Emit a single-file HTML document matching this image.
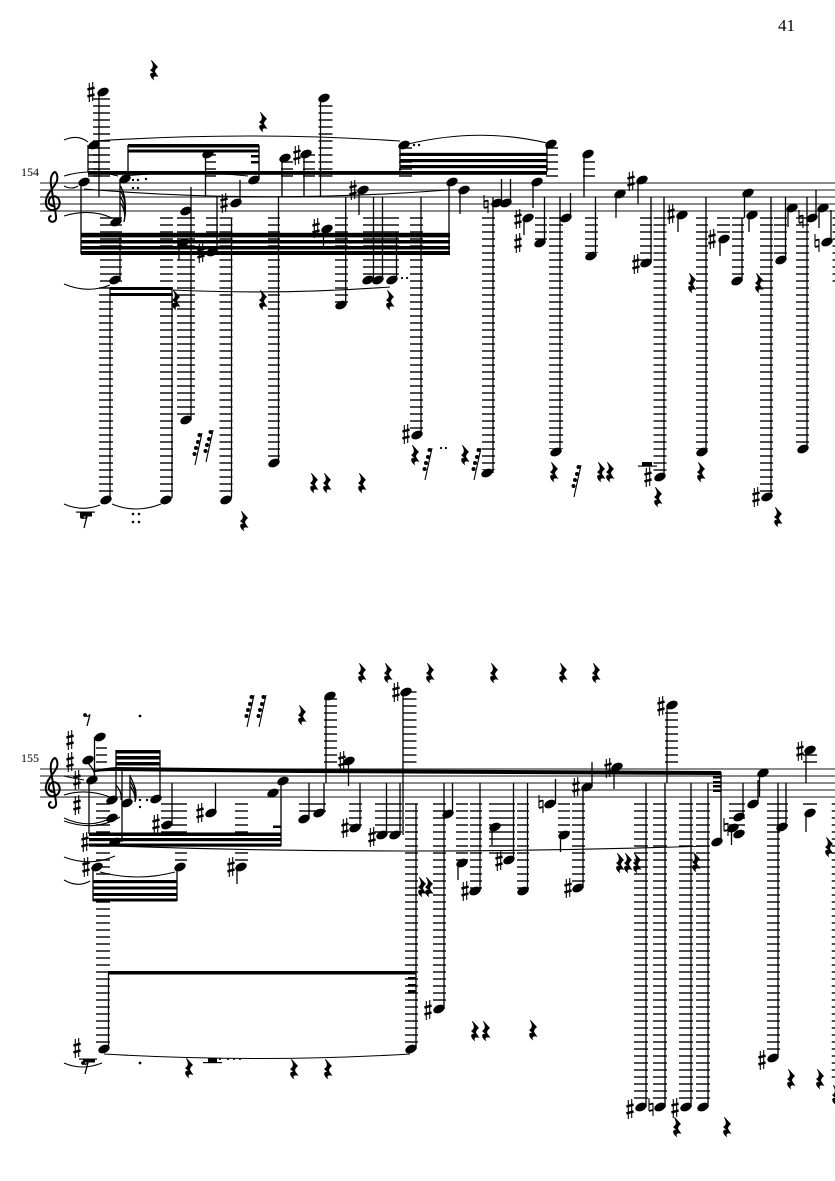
<!DOCTYPE html>
<html><head><meta charset="utf-8"><style>
html,body{margin:0;padding:0;background:#fff}
svg{display:block}
text{font-family:"Liberation Serif",serif;fill:#000}
</style></head><body>
<svg width="835" height="1181" viewBox="0 0 835 1181" xmlns="http://www.w3.org/2000/svg">
<defs>
<ellipse id="h" rx="6" ry="3.9" transform="rotate(-24)" fill="#000"/>
<g id="s" stroke="#000" fill="none"><path d="M-1.7-9V10M1.7-10V9" stroke-width="1.1"/><path d="M-3.6-2.4L3.6-4.4M-3.6 4.4L3.6 2.4" stroke-width="2.5"/></g>
<g id="n" stroke="#000" fill="none"><path d="M-2-9V4M2-4V9" stroke-width="1.1"/><path d="M-2-2.5L2-3.5M-2 4L2 3" stroke-width="1.9"/></g>
<path id="r" fill="#000" d="M-2.400-10L4-3C1.500-1 .5 1 1.500 2.500L4.500 7C1 5.500-2 6.500 .5 10.500C-5 7-5 2-.8 3L-4 0C-1-2 0-4-3-9.500Z"/>
<g id="f"><path d="M0 32L7 0" stroke="#000" stroke-width="1.100"/><circle cx="4.500" cy="2" r="2"/><circle cx="3" cy="9" r="2"/><circle cx="1" cy="15" r="2"/><circle cx="-.5" cy="21" r="2"/></g>
<g id="e"><circle cx="-2" cy="-5" r="1.900"/><path d="M-2-4.500C0-3 2-4 3-5.500L0 6" stroke="#000" stroke-width="1.300" fill="none"/></g>
<path id="c" fill="none" stroke="#000" stroke-width="2" d="M54 206C50 206 48 203 49 200C50 196 55 195 58 198C61 202 60 209 54 210C48 211 45 206 46 200C47 193 54 188 57 181C58 177 57 173 55 172C52 173 50 178 51 185L56 216C57 221 53 223 50 221C48 219 49 216 51.500 216"/>
</defs>
<rect width="835" height="1181" fill="#fff"/>
<text x="778" y="31" font-size="17">41</text>
<text x="21" y="176" font-size="12">154</text>
<text x="21" y="762" font-size="12">155</text>

<!-- staves -->
<path stroke="#444" stroke-width="1.300" fill="none" d="M40 183H835M40 190H835M40 197H835M40 204H835M40 211H835M40 769H835M40 776H835M40 783H835M40 790H835M40 797H835"/>
<use href="#c"/>
<use href="#c" y="586"/>

<!-- ledger stacks system 1 -->
<g fill="none" stroke="#111" stroke-dasharray="1.500 5.500">
<path d="M101.500 98.300V177" stroke-width="17"/>
<path d="M94 147.300V177" stroke-width="12"/>
<path d="M111 217.300V282" stroke-width="22"/>
<path d="M106 287.300V496" stroke-width="14"/>
<path d="M166.500 217.300V496" stroke-width="13"/>
<path d="M186 217.300V416" stroke-width="18"/>
<path d="M212 217.300V233" stroke-width="12"/>
<path d="M226 217.300V496" stroke-width="13"/>
<path d="M210.500 154.300V177" stroke-width="11"/>
<path d="M287 161.300V177" stroke-width="12"/>
<path d="M309 154.300V177" stroke-width="12"/>
<path d="M325.500 105.300V177" stroke-width="14"/>
<path d="M274 217.300V458" stroke-width="12"/>
<path d="M341.500 217.300V303" stroke-width="13"/>
<path d="M381 217.300V277" stroke-width="36"/>
<path d="M416.500 217.300V431" stroke-width="13"/>
<path d="M405.500 147.300V177" stroke-width="13"/>
<path d="M552 147.300V177" stroke-width="12"/>
<path d="M488.500 217.300V470" stroke-width="13"/>
<path d="M541 217.300V240" stroke-width="12"/>
<path d="M556 217.300V449" stroke-width="14"/>
<path d="M591.500 217.300V253" stroke-width="13"/>
<path d="M589 161.300V177" stroke-width="12"/>
<path d="M646 217.300V261" stroke-width="12"/>
<path d="M660 217.300V473" stroke-width="13"/>
<path d="M702 217.300V449" stroke-width="12"/>
<path d="M723.500 217.300V233" stroke-width="13"/>
<path d="M738 217.300V278" stroke-width="12"/>
<path d="M766.500 217.300V494" stroke-width="13"/>
<path d="M780.500 217.300V256" stroke-width="13"/>
<path d="M802.500 217.300V446" stroke-width="13"/>
<path d="M834 217.300V282" stroke-width="3"/>

<!-- ledger stacks system 2 -->
<path d="M101.500 747.300V763" stroke-width="11"/>
<path d="M103 803.300V1044" stroke-width="14"/>
<path d="M174 803.300V833" stroke-width="26"/>
<path d="M181 852.300V861" stroke-width="12"/>
<path d="M241.500 803.300V833" stroke-width="13"/>
<path d="M241.500 852.300V861" stroke-width="13"/>
<path d="M312.500 803.300V812" stroke-width="27"/>
<path d="M330.500 698.300V763" stroke-width="13"/>
<path d="M409.500 691.300V763" stroke-width="14"/>
<path d="M355.500 803.300V826" stroke-width="13"/>
<path d="M388.500 803.300V833" stroke-width="27"/>
<path d="M411.500 803.300V1044" stroke-width="13"/>
<path d="M439.500 803.300V1005" stroke-width="13"/>
<path d="M462 803.300V861" stroke-width="12"/>
<path d="M476 803.300V889" stroke-width="12"/>
<path d="M502 803.300V858" stroke-width="26"/>
<path d="M523 803.300V889" stroke-width="12"/>
<path d="M564 803.300V833" stroke-width="12"/>
<path d="M578.500 803.300V885" stroke-width="13"/>
<path d="M641 803.300V1103" stroke-width="14"/>
<path d="M660 803.300V1103" stroke-width="14"/>
<path d="M686 803.300V1103" stroke-width="14"/>
<path d="M703 803.300V1103" stroke-width="14"/>
<path d="M671.500 712.300V763" stroke-width="13"/>
<path d="M737 803.300V826" stroke-width="16"/>
<path d="M773.500 803.300V1054" stroke-width="13"/>
<path d="M783 803.300V826" stroke-width="10"/>
<path d="M810 803.300V806" stroke-width="14"/>
<path d="M810 754.300V763" stroke-width="14"/>
<path d="M833.500 803.300V1078" stroke-width="3.500"/>
</g>

<!-- stems -->
<path fill="none" stroke="#000" stroke-width="1.300" d="
M99 92V197M88 145V172M81 182V254M128 145V180M259 145V178M120 180V221M120 235V280M110 288V498M172 288V498M191 187V420M179 243V260M217 197V252M240 180V203M231.500 218V498M205.500 155V197M282 158V197M304 154V197M320.500 98V197M278.500 197V463M359 190V215M323.500 229V246M345.700 197V305M373.500 197V280M382.500 197V280M396.500 232V280M421 197V435M400 145V172M547 144V172M449 182V254M460 190V214M501.500 179V203M510.500 179V203M493 197V473M533 182V208M524 218V235M544.500 197V243M570.500 193V218M560 197V452M595.500 197V256M584 154V197M616 194V218M638 180V204M651 197V263M664 197V477M678 215V232M706 197V452M720 239V256M744.500 193V218M749 215V232M742 218V281M771 197V497M788 208V227M785.500 197V260M816 190V218M819 208V228M831 210V242M807 197V449
M94.500 737V780M89 780V834M116 750V800M122 770V842M130 775V803M160 750V799M281 781V846M93 866V901M177 866V901M172 783V824M215.500 783V813M237 867V884M108.500 972V1047M416 972V1049M403 783V835M386.500 783V835M400 783V835M309 783V819M324 783V813M360 783V828M348.500 761V786M326 696V783M403 692V783M444 783V1009M452.500 783V814M492 827V845M458 863V880M480 783V891M513.500 783V860M527.500 783V891M555.500 779V804M560.500 835V852M592 762V787M583 787V888M614 767V789M646 783V1107M665 783V1107M691 783V1107M708 783V1107M667 705V783M721 772V842M731.500 832V845M743 783V817M758 780V804M759.500 773V797M778 783V1058M786 783V827M806 750V783M806 815V832M416 804V972"/>

<!-- beams -->
<g fill="#000">
<rect x="88" y="171" width="459" height="3.800"/>
<rect x="128" y="144" width="131" height="3.500"/><rect x="128" y="149.500" width="131" height="3"/>
<rect x="251" y="155" width="8" height="2.500"/><rect x="251" y="161" width="8" height="2.500"/>
<rect x="400" y="152.800" width="147" height="3.200"/><rect x="400" y="159" width="147" height="3.200"/><rect x="400" y="165" width="147" height="3.200"/>
<rect x="81" y="232.800" width="369" height="4.600"/><rect x="81" y="240" width="369" height="3.500"/><rect x="81" y="246" width="369" height="3.500"/><rect x="81" y="251" width="369" height="4"/>
<rect x="110" y="287" width="62" height="3"/><rect x="110" y="293" width="62" height="3"/>
<rect x="76" y="511.500" width="19" height="1.200"/><rect x="80" y="512.500" width="12" height="4"/>
<rect x="642" y="462" width="10" height="3.500"/><rect x="638" y="465.500" width="19" height="1.200"/>

<rect x="116" y="750" width="44" height="3.500"/><rect x="116" y="756" width="44" height="3.500"/><rect x="116" y="762" width="44" height="3.500"/>
<path d="M95 770C105 768 110 767.500 116 767L160 767.500L300 769L721 771V775L300 773L160 771.500L116 771C110 771 105 771 95 772Z"/>
<rect x="713" y="776" width="8" height="2.500"/><rect x="713" y="781" width="8" height="2.500"/><rect x="713" y="785" width="8" height="2.500"/><rect x="713" y="789.500" width="8" height="2.500"/>
<rect x="89" y="832.500" width="192" height="3.500"/><rect x="89" y="838" width="192" height="3.200"/><rect x="89" y="843.500" width="192" height="3.200"/>
<rect x="273" y="825.500" width="8" height="2.500"/>
<rect x="93" y="880" width="84" height="3.200"/><rect x="93" y="886.500" width="84" height="3"/><rect x="93" y="893" width="84" height="3"/><rect x="93" y="898.500" width="84" height="3"/>
<rect x="108" y="971" width="308" height="3.500"/>
<rect x="408" y="977" width="8" height="2.500"/><rect x="408" y="984" width="8" height="2.500"/><rect x="408" y="990" width="8" height="2.500"/>
<rect x="208" y="1058" width="9" height="4"/><rect x="203" y="1062" width="19" height="1.200"/>
<rect x="79" y="1058.500" width="18" height="1.200"/><rect x="83" y="1059" width="12" height="3.500"/>
<circle cx="220" cy="1059" r="1"/><circle cx="228" cy="1059" r="1"/><circle cx="234" cy="1059" r="1"/><circle cx="240" cy="1059" r="1"/>
<circle cx="133" cy="180" r="1.200"/><circle cx="138" cy="180" r="1.200"/><circle cx="146" cy="179" r="1.200"/><circle cx="133" cy="188" r="1.200"/><circle cx="138" cy="188" r="1.200"/>
<circle cx="402" cy="278" r="1.100"/><circle cx="407" cy="278" r="1.100"/>
<circle cx="414" cy="145" r="1.200"/><circle cx="419" cy="145" r="1.200"/>
<circle cx="133" cy="514" r="1.300"/><circle cx="139" cy="514" r="1.300"/><circle cx="133" cy="522" r="1.300"/><circle cx="139" cy="522" r="1.300"/>
<circle cx="140" cy="800" r="1.200"/><circle cx="147" cy="800" r="1.200"/><circle cx="140" cy="807" r="1.200"/><circle cx="140" cy="716" r="1.400"/><circle cx="140" cy="1063" r="1.400"/>
<circle cx="441" cy="448" r="1.100"/><circle cx="446" cy="448" r="1.100"/>
</g>

<!-- slurs -->
<path fill="none" stroke="#000" stroke-width="1.100" d="
M64 140Q78 134 88 142M95 141Q250 131 400 141M408 144Q480 127 547 143M64 176Q90 168 118 176M122 176Q190 170 248 176M64 186Q72 190 78 186M84 189Q265 204 448 190M64 216Q90 208 112 218M64 284Q88 294 110 285M173 290Q280 295 390 287M64 504Q82 512 100 505M112 504Q136 514 161 504
M64 795Q86 788 110 797M64 818Q90 830 113 817M64 821Q95 832 120 817M64 857Q90 867 115 856M64 880Q78 888 90 881M64 776Q72 778 84 780M100 872Q138 882 175 872M113 846Q400 856 708 846M64 1063Q82 1071 102 1063M104 1054Q257 1063 410 1054"/>

<!-- flags -->
<path fill="none" stroke="#000" stroke-width="1.300" d="M120.500 186C125 194 127 205 124 222M120.500 191C125 198 127 208 124 222M120.500 197C125 204 126 212 124 222M120.500 203C124 208 126 214 124 222"/>
<path fill="none" stroke="#000" stroke-width="1.300" d="M130 776C134 784 138 792 135 802M130 781C134 788 137 794 135 802M130 786C133 790 136 796 135 802M116 785C120 790 122 794 121 800M88 763C92 768 96 772 94 778"/>

<!-- note heads system 1 -->
<g>
<use href="#h" x="94" y="145"/><use href="#h" x="103" y="92"/><use href="#h" x="84" y="182"/><use href="#h" x="125" y="179"/><use href="#h" x="254" y="180"/><use href="#h" x="116" y="222"/><use href="#h" x="115" y="280"/><use href="#h" x="106" y="500"/><use href="#h" x="166" y="500"/><use href="#h" x="186" y="211"/><use href="#h" x="186" y="420"/><use href="#h" x="183" y="243"/><use href="#h" x="212" y="252"/><use href="#h" x="236" y="203"/><use href="#h" x="226" y="500"/><use href="#h" x="208" y="154"/><use href="#h" x="285" y="158"/><use href="#h" x="306" y="154"/><use href="#h" x="324" y="98"/><use href="#h" x="274" y="463"/><use href="#h" x="363" y="190"/><use href="#h" x="327" y="229"/><use href="#h" x="341" y="305"/><use href="#h" x="368" y="280"/><use href="#h" x="378" y="280"/><use href="#h" x="392" y="280"/><use href="#h" x="417" y="435"/><use href="#h" x="404" y="145"/><use href="#h" x="551" y="144"/><use href="#h" x="452" y="182"/><use href="#h" x="464" y="190"/><use href="#h" x="497" y="203"/><use href="#h" x="506" y="203"/><use href="#h" x="487" y="473"/><use href="#h" x="537" y="182"/><use href="#h" x="528" y="218"/><use href="#h" x="540" y="243"/><use href="#h" x="566" y="218"/><use href="#h" x="556" y="452"/><use href="#h" x="591" y="256"/><use href="#h" x="588" y="154"/><use href="#h" x="620" y="194"/><use href="#h" x="642" y="180"/><use href="#h" x="646" y="263"/><use href="#h" x="660" y="477"/><use href="#h" x="682" y="215"/><use href="#h" x="702" y="452"/><use href="#h" x="724" y="239"/><use href="#h" x="748" y="193"/><use href="#h" x="752" y="215"/><use href="#h" x="737" y="281"/><use href="#h" x="767" y="497"/><use href="#h" x="792" y="208"/><use href="#h" x="781" y="260"/><use href="#h" x="812" y="218"/><use href="#h" x="823" y="208"/><use href="#h" x="827" y="242"/><use href="#h" x="803" y="449"/>
<!-- note heads system 2 -->
<use href="#h" x="100" y="737"/><use href="#h" x="88" y="760"/><use href="#h" x="92" y="780"/><use href="#h" x="112" y="800"/><use href="#h" x="112" y="818"/><use href="#h" x="115" y="842"/><use href="#h" x="127" y="803"/><use href="#h" x="156" y="799"/><use href="#h" x="283" y="781"/><use href="#h" x="273" y="793"/><use href="#h" x="97" y="867"/><use href="#h" x="180" y="867"/><use href="#h" x="167" y="825"/><use href="#h" x="211" y="813"/><use href="#h" x="241" y="867"/><use href="#h" x="104" y="1049"/><use href="#h" x="411" y="1049"/><use href="#h" x="382" y="835"/><use href="#h" x="395" y="835"/><use href="#h" x="304" y="819"/><use href="#h" x="319" y="813"/><use href="#h" x="355" y="828"/><use href="#h" x="349" y="761"/><use href="#h" x="330" y="696"/><use href="#h" x="406" y="692"/><use href="#h" x="448" y="814"/><use href="#h" x="439" y="1009"/><use href="#h" x="495" y="827"/><use href="#h" x="462" y="863"/><use href="#h" x="475" y="891"/><use href="#h" x="509" y="860"/><use href="#h" x="523" y="891"/><use href="#h" x="550" y="804"/><use href="#h" x="564" y="835"/><use href="#h" x="587" y="787"/><use href="#h" x="578" y="888"/><use href="#h" x="617" y="767"/><use href="#h" x="641" y="1107"/><use href="#h" x="660" y="1107"/><use href="#h" x="686" y="1107"/><use href="#h" x="703" y="1107"/><use href="#h" x="672" y="705"/><use href="#h" x="717" y="842"/><use href="#h" x="739" y="817"/><use href="#h" x="739" y="834"/><use href="#h" x="733" y="828"/><use href="#h" x="753" y="804"/><use href="#h" x="763" y="773"/><use href="#h" x="782" y="827"/><use href="#h" x="773" y="1058"/><use href="#h" x="810" y="813"/><use href="#h" x="810" y="750"/>
</g>

<!-- sharps -->
<use href="#s" x="91" y="92"/><use href="#s" x="201" y="253"/><use href="#s" x="224" y="203"/><use href="#s" x="353" y="190"/><use href="#s" x="316" y="228"/><use href="#s" x="297" y="155"/><use href="#s" x="406" y="434"/><use href="#s" x="518" y="219"/><use href="#s" x="518" y="243"/><use href="#s" x="631" y="181"/><use href="#s" x="636" y="264"/><use href="#s" x="648" y="477"/><use href="#s" x="671" y="214"/><use href="#s" x="712" y="239"/><use href="#s" x="756" y="497"/>
<use href="#s" x="70" y="740"/><use href="#s" x="70" y="762"/><use href="#s" x="77" y="780"/><use href="#s" x="77" y="805"/><use href="#s" x="85" y="842"/><use href="#s" x="86" y="867"/><use href="#s" x="156" y="824"/><use href="#s" x="200" y="813"/><use href="#s" x="231" y="867"/><use href="#s" x="342" y="761"/><use href="#s" x="396" y="692"/><use href="#s" x="345" y="828"/><use href="#s" x="372" y="837"/><use href="#s" x="428" y="1010"/><use href="#s" x="465" y="891"/><use href="#s" x="499" y="861"/><use href="#s" x="576" y="787"/><use href="#s" x="568" y="888"/><use href="#s" x="608" y="768"/><use href="#s" x="661" y="706"/><use href="#s" x="630" y="1109"/><use href="#s" x="675" y="1108"/><use href="#s" x="762" y="1060"/><use href="#s" x="800" y="751"/><use href="#s" x="77" y="1048"/>

<!-- naturals -->
<use href="#n" x="486" y="204"/><use href="#n" x="801" y="219"/><use href="#n" x="817" y="243"/><use href="#n" x="541" y="804"/><use href="#n" x="726" y="827"/><use href="#n" x="651" y="1107"/>

<!-- quarter rests -->
<use href="#r" x="154" y="70"/><use href="#r" x="263" y="122"/><use href="#r" x="176" y="300"/><use href="#r" x="263" y="300"/><use href="#r" x="390" y="300"/><use href="#r" x="692" y="283"/><use href="#r" x="759" y="283"/><use href="#r" x="244" y="521"/><use href="#r" x="314" y="483"/><use href="#r" x="327" y="483"/><use href="#r" x="362" y="483"/><use href="#r" x="415" y="455"/><use href="#r" x="465" y="455"/><use href="#r" x="554" y="472"/><use href="#r" x="601" y="472"/><use href="#r" x="610" y="472"/><use href="#r" x="658" y="497"/><use href="#r" x="701" y="472"/><use href="#r" x="778" y="517"/>
<use href="#r" x="362" y="673"/><use href="#r" x="388" y="673"/><use href="#r" x="430" y="673"/><use href="#r" x="494" y="673"/><use href="#r" x="563" y="673"/><use href="#r" x="596" y="673"/><use href="#r" x="302" y="715"/><use href="#r" x="422" y="887"/><use href="#r" x="429" y="887"/><use href="#r" x="620" y="863"/><use href="#r" x="628" y="863"/><use href="#r" x="637" y="863"/><use href="#r" x="696" y="862"/><use href="#r" x="475" y="1031"/><use href="#r" x="486" y="1031"/><use href="#r" x="533" y="1030"/><use href="#r" x="189" y="1068"/><use href="#r" x="294" y="1069"/><use href="#r" x="328" y="1069"/><use href="#r" x="791" y="1079"/><use href="#r" x="820" y="1079"/><use href="#r" x="677" y="1127"/><use href="#r" x="727" y="1127"/><use href="#r" x="829" y="847"/><use href="#r" x="836" y="1095"/>

<!-- small rests -->
<use href="#f" x="195" y="433"/><use href="#f" x="206" y="430"/><use href="#f" x="425" y="448"/><use href="#f" x="474" y="448"/><use href="#f" x="574" y="465"/><use href="#f" x="247" y="695"/><use href="#f" x="259" y="695"/>
<use href="#e" x="84" y="522"/><use href="#e" x="87" y="720"/><use href="#e" x="85" y="1068"/>
</svg>
</body></html>
